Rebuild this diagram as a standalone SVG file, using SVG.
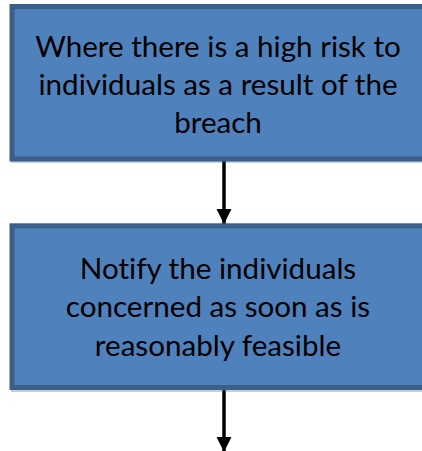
<svg xmlns="http://www.w3.org/2000/svg" width="422" height="451" viewBox="0 0 422 451">
<defs>
<style>
.box{fill:#4F81BD;stroke:#3A5F8B;stroke-width:5}
.sh{fill:#3A5F8B;opacity:0.3}
.t{font-family:Lato,"Liberation Sans",sans-serif;font-size:29.6px;fill:#000;text-anchor:middle;font-variant-ligatures:none}
.c{stroke:#000;stroke-width:3.5;fill:none}
</style>
<marker id="ah" markerUnits="userSpaceOnUse" markerWidth="16" markerHeight="16" refX="15" refY="7.5" orient="auto">
<path d="M0,0 L15,7.5 L0,15 Z" fill="#000"/>
</marker>
</defs>
<g id="connectors">
<line class="c" x1="224" y1="161" x2="224" y2="224" marker-end="url(#ah)"/>
<line class="c" x1="224" y1="390" x2="224" y2="452" marker-end="url(#ah)"/>
</g>
<g id="node1">
<rect class="sh" x="11" y="8" width="420" height="155"/>
<rect class="box" x="12" y="6.5" width="420" height="152.5"/>
<text class="t" x="218" y="57">Where there is a high risk to</text>
<text class="t" x="218" y="95">individuals as a result of the</text>
<text class="t" x="218" y="133">breach</text>
</g>
<g id="node2">
<rect class="sh" x="11" y="227" width="420" height="165"/>
<rect class="box" x="12" y="225.8" width="420" height="161.7"/>
<text class="t" x="218" y="279">Notify the individuals</text>
<text class="t" x="218" y="317">concerned as soon as is</text>
<text class="t" x="218" y="356">reasonably feasible</text>
</g>
</svg>
